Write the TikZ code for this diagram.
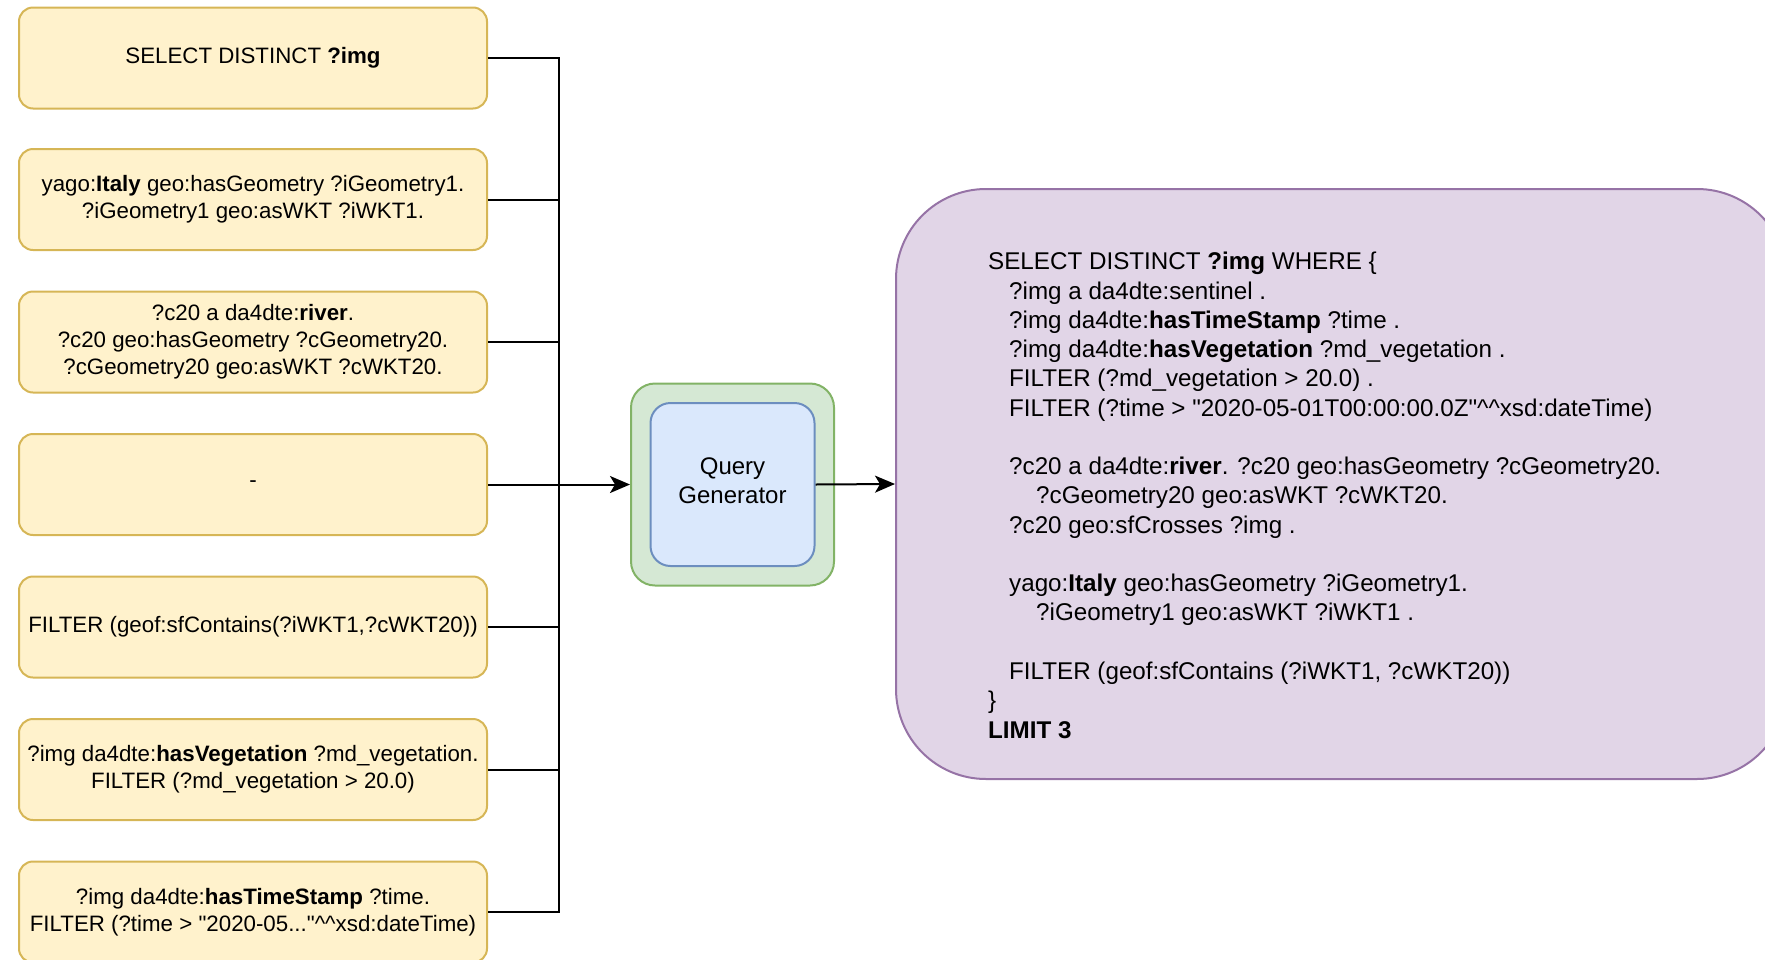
\documentclass[tikz,border=0pt]{standalone}
\usepackage{fontspec}
\setmainfont{Liberation Sans}[Ligatures=TeXOff]
\usetikzlibrary{arrows.meta}
\definecolor{ylwfill}{HTML}{FFF2CC}
\definecolor{ylwdraw}{HTML}{D6B656}
\definecolor{grnfill}{HTML}{D5E8D4}
\definecolor{grndraw}{HTML}{82B366}
\definecolor{blufill}{HTML}{DAE8FC}
\definecolor{bludraw}{HTML}{6C8EBF}
\definecolor{purfill}{HTML}{E1D5E7}
\definecolor{purdraw}{HTML}{9673A6}
\newcommand{\dq}{\symbol{34}}
\begin{document}
\begin{tikzpicture}[x=1pt,y=-1pt,
  inbox/.style={draw=ylwdraw, fill=ylwfill, line width=2pt, rounded corners=14pt,
    minimum width=468pt, minimum height=101pt, align=center, inner sep=0pt,
    font=\fontsize{22.3}{27}\selectfont},
  qgouter/.style={draw=grndraw, fill=grnfill, line width=2pt, rounded corners=24pt,
    minimum width=203pt, minimum height=202pt, inner sep=0pt},
  qginner/.style={draw=bludraw, fill=blufill, line width=2pt, rounded corners=20pt,
    minimum width=164pt, minimum height=163pt, inner sep=0pt},
  qglabel/.style={align=center, inner sep=0pt, font=\fontsize{24}{29.3}\selectfont},
  outbox/.style={draw=purdraw, fill=purfill, line width=2pt, rounded corners=90pt,
    minimum width=891pt, minimum height=590pt, inner sep=0pt},
  conn/.style={draw=black, line width=2pt},
  arr/.style={conn, -{Stealth[length=20pt,width=17pt,inset=5pt]}}
]
\useasboundingbox (0,0) rectangle (1765,959);
\clip (0,0) rectangle (1765,959);

\node[inbox] (b1) at (253,58) {SELECT DISTINCT \textbf{?img}};
\node[inbox] (b2) at (253,199.5) {yago:\textbf{Italy} geo:hasGeometry ?iGeometry1.\\?iGeometry1 geo:asWKT ?iWKT1.};
\node[inbox] (b3) at (253,342) {?c20 a da4dte:\textbf{river}.\\?c20 geo:hasGeometry ?cGeometry20.\\?cGeometry20 geo:asWKT ?cWKT20.};
\node[inbox] (b4) at (253,484.5) {-};
\node[inbox] (b5) at (253,627) {FILTER (geof:sfContains(?iWKT1,?cWKT20))};
\node[inbox] (b6) at (253,769.5) {?img da4dte:\textbf{hasVegetation} ?md\_vegetation.\\FILTER (?md\_vegetation > 20.0)};
\node[inbox] (b7) at (253,912) {?img da4dte:\textbf{hasTimeStamp} ?time.\\FILTER (?time > \dq 2020-05...\dq\textasciicircum\textasciicircum xsd:dateTime)};

\node[qgouter] (qg) at (732.5,484.5) {};
\node[qginner] (qgin) at (732.5,484.5) {};
\node[qglabel] (qgtext) at (732.5,481) {Query\\Generator};

\node[outbox] (out) at (1341.5,484) {};
\node[anchor=north west, align=left, inner sep=0pt, font=\fontsize{24.2}{29.27}\selectfont] (qtext) at (988,252) {%
SELECT DISTINCT \textbf{?img} WHERE \{\\
\hspace*{21pt}?img a da4dte:sentinel .\\
\hspace*{21pt}?img da4dte:\textbf{hasTimeStamp} ?time .\\
\hspace*{21pt}?img da4dte:\textbf{hasVegetation} ?md\_vegetation .\\
\hspace*{21pt}FILTER (?md\_vegetation > 20.0) .\\
\hspace*{21pt}FILTER (?time > \dq 2020-05-01T00:00:00.0Z\dq\textasciicircum\textasciicircum xsd:dateTime)\\[29.27pt]
\hspace*{21pt}?c20 a da4dte:\textbf{river}. ?c20 geo:hasGeometry ?cGeometry20.\\
\hspace*{48pt}?cGeometry20 geo:asWKT ?cWKT20.\\
\hspace*{21pt}?c20 geo:sfCrosses ?img .\\[29.27pt]
\hspace*{21pt}yago:\textbf{Italy} geo:hasGeometry ?iGeometry1.\\
\hspace*{48pt}?iGeometry1 geo:asWKT ?iWKT1 .\\[29.27pt]
\hspace*{21pt}FILTER (geof:sfContains (?iWKT1, ?cWKT20))\\
\}\\
\textbf{LIMIT 3}};

\coordinate (bus) at (559,484.5);
\draw[conn] (b1.east) -| (bus);
\draw[conn] (b2.east) -| (bus);
\draw[conn] (b3.east) -| (bus);
\draw[conn] (b4.east) -- (bus);
\draw[conn] (b5.east) -| (bus);
\draw[conn] (b6.east) -| (bus);
\draw[conn] (b7.east) -| (bus);
\draw[arr] (bus) -- (qg.west);
\draw[arr] (qgin.east) -- (out.west);
\end{tikzpicture}
\end{document}
